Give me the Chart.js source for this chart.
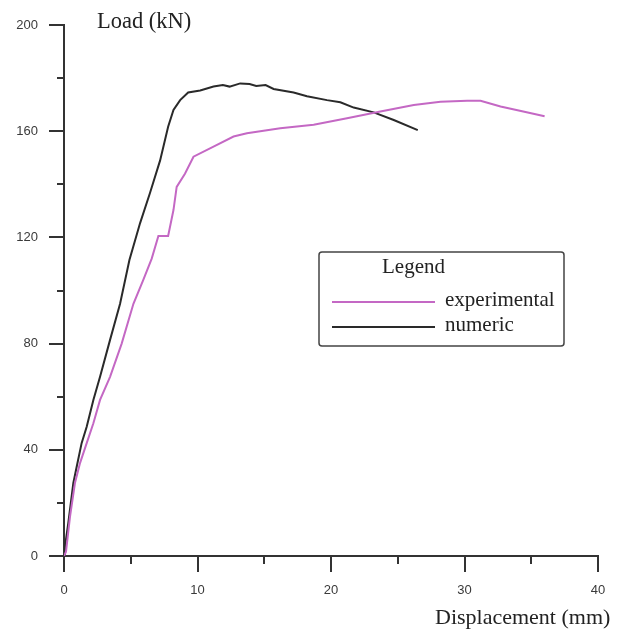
<!DOCTYPE html>
<html>
<head>
<meta charset="utf-8">
<script src="https://cdn.jsdelivr.net/npm/chart.js@4"></script>
<style>
  html, body { margin: 0; padding: 0; background: #fff; }
  #wrap { width: 627px; height: 630px; position: relative; }
</style>
</head>
<body>
<div id="wrap"><canvas id="c" width="627" height="630"></canvas></div>
<script>
// load-displacement curves
const expX = [0, 0.15, 0.45, 0.82, 1.2, 1.7, 2.2, 2.7, 3.45, 4.32, 5.2, 5.94, 6.57, 7.07, 7.8, 8.2, 8.44, 9.06, 9.7, 11.2, 12.7, 13.7, 16.2, 18.7, 21.2, 23.7, 26.2, 28.2, 30.2, 31.2, 32.7, 34.4, 36.0];
const expY = [0, 1.6, 14.8, 27.5, 35, 42.5, 50, 58.8, 67.5, 80, 95, 104, 112, 120.5, 120.5, 130.3, 139, 144, 150.4, 154.2, 158, 159.2, 161.1, 162.4, 164.9, 167.4, 169.9, 171.1, 171.5, 171.5, 169.3, 167.4, 165.6];

const numX = [0, 0.07, 0.32, 0.7, 0.95, 1.32, 1.7, 2.2, 2.7, 3.45, 4.2, 4.9, 5.7, 6.44, 7.2, 7.8, 8.2, 8.7, 9.3, 10.2, 11.2, 11.9, 12.4, 13.2, 13.9, 14.4, 15.1, 15.7, 17.2, 18.2, 19.7, 20.7, 21.7, 23.2, 24.7, 26.5];
const numY = [0, 3.5, 12.4, 27.5, 33.6, 42.5, 48.7, 58.8, 67.5, 81.4, 95, 111.5, 125.4, 136.7, 149, 161.7, 168, 171.7, 174.6, 175.3, 176.8, 177.4, 176.8, 178, 177.8, 177, 177.4, 175.9, 174.6, 173.2, 171.7, 170.9, 168.9, 167.1, 164.2, 160.4];

const seriesNames = ["experimental", "numeric"];
const seriesColors = ["#c468c4", "#2a2a2a"];
const xMinorTicks = [5, 15, 25, 35];
const yMinorTicks = [20, 60, 100, 140, 180];

const toPoints = (xs, ys) => xs.map((x, i) => ({ x: x, y: ys[i] }));

const axisColor = "#333";
const serif = "'Liberation Serif', 'DejaVu Serif', serif";

// minor ticks, axis titles and the boxed legend
const extras = {
  id: "extras",
  afterDraw(chart) {
    const ctx = chart.ctx;
    const xs = chart.scales.x, ys = chart.scales.y;
    const area = chart.chartArea;
    ctx.save();
    ctx.strokeStyle = axisColor;
    ctx.lineWidth = 2;
    yMinorTicks.forEach(v => {
      const py = Math.round(ys.getPixelForValue(v));
      ctx.beginPath();
      ctx.moveTo(area.left - 7, py);
      ctx.lineTo(area.left, py);
      ctx.stroke();
    });
    xMinorTicks.forEach(v => {
      const px = Math.round(xs.getPixelForValue(v));
      ctx.beginPath();
      ctx.moveTo(px, area.bottom);
      ctx.lineTo(px, area.bottom + 8);
      ctx.stroke();
    });

    ctx.fillStyle = "#222";
    ctx.font = "22.5px " + serif;
    ctx.textBaseline = "middle";
    ctx.textAlign = "left";
    ctx.fillText("Load (kN)", 97, 22);
    ctx.font = "22px " + serif;
    ctx.fillText("Displacement (mm)", 435, 618);

    // legend box
    ctx.strokeStyle = "#444";
    ctx.lineWidth = 1.5;
    ctx.beginPath();
    ctx.roundRect(319, 252, 245, 94, 3);
    ctx.stroke();
    ctx.font = "21px " + serif;
    ctx.fillText("Legend", 382, 267);
    const rows = [302, 327];
    seriesNames.forEach((name, i) => {
      ctx.strokeStyle = seriesColors[i];
      ctx.lineWidth = 2;
      ctx.beginPath();
      ctx.moveTo(332, rows[i]);
      ctx.lineTo(435, rows[i]);
      ctx.stroke();
      ctx.fillStyle = "#222";
      ctx.fillText(name, 445, rows[i] - 2);
    });
    ctx.restore();
  }
};

new Chart(document.getElementById("c"), {
  type: "scatter",
  data: {
    datasets: [
      {
        label: seriesNames[0],
        data: toPoints(expX, expY),
        showLine: true,
        borderColor: seriesColors[0],
        borderWidth: 2,
        pointRadius: 0,
        tension: 0
      },
      {
        label: seriesNames[1],
        data: toPoints(numX, numY),
        showLine: true,
        borderColor: seriesColors[1],
        borderWidth: 2,
        pointRadius: 0,
        tension: 0
      }
    ]
  },
  options: {
    responsive: false,
    animation: false,
    layout: { padding: { top: 25, right: 29, left: 0, bottom: 0 } },
    plugins: { legend: { display: false }, tooltip: { enabled: false } },
    scales: {
      x: {
        type: "linear",
        min: 0,
        max: 40,
        afterFit: s => { s.height = 74; },
        ticks: {
          stepSize: 10,
          padding: 11,
          color: "#3a3a3a",
          font: { family: "'Liberation Sans', Arial, sans-serif", size: 13 }
        },
        grid: { drawOnChartArea: false, drawTicks: true, tickLength: 16, color: axisColor, lineWidth: 2 },
        border: { display: true, color: axisColor, width: 2 }
      },
      y: {
        min: 0,
        max: 200,
        afterFit: s => { s.width = 64; },
        ticks: {
          stepSize: 40,
          padding: 11,
          color: "#3a3a3a",
          font: { family: "'Liberation Sans', Arial, sans-serif", size: 13 }
        },
        grid: { drawOnChartArea: false, drawTicks: true, tickLength: 15, color: axisColor, lineWidth: 2 },
        border: { display: true, color: axisColor, width: 2 }
      }
    }
  },
  plugins: [extras]
});
</script>
</body>
</html>
